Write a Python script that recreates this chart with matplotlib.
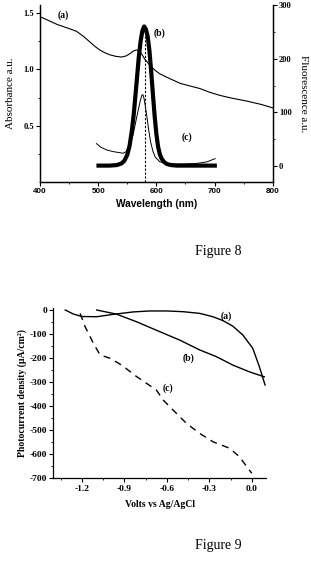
import matplotlib
matplotlib.use("Agg")
import matplotlib.pyplot as plt
from matplotlib.ticker import MultipleLocator, FuncFormatter

plt.rcParams['axes.unicode_minus'] = False

# ---------------- Figure 8 data ----------------
abs_nm = [400, 415, 430, 450, 463, 475, 486, 495, 503, 512, 520, 530, 540, 548, 555, 560, 565, 569, 572, 576, 580, 585, 590, 598, 606, 620, 641, 660, 675, 690, 709, 730, 755, 780, 800]
abs_val = [1.465, 1.43, 1.395, 1.36, 1.335, 1.29, 1.24, 1.2, 1.17, 1.145, 1.128, 1.115, 1.108, 1.118, 1.14, 1.16, 1.17, 1.168, 1.155, 1.125, 1.09, 1.06, 1.03, 0.99, 0.96, 0.925, 0.876, 0.85, 0.83, 0.80, 0.77, 0.745, 0.72, 0.69, 0.66]

fl_b_nm = [497, 520, 532, 540, 545, 550, 554, 558, 561, 564, 567, 570, 573, 576, 579, 582, 585, 588, 591, 594, 597, 600, 603, 606, 609, 613, 618, 625, 635, 704]
fl_b_val = [1, 1, 2, 5, 10, 21, 38, 67, 95, 131, 168, 205, 233, 252, 260, 255, 242, 216, 178, 135, 94, 60, 36, 22, 14, 8, 4, 2, 1, 1]

fl_c_nm = [497, 505, 515, 526, 537.5, 543, 548, 555, 560, 566, 572, 575, 577, 579, 581, 584, 587, 590, 594, 598, 606, 623, 646, 669, 687, 701]
fl_c_val = [42, 35, 30, 27, 25, 24, 27, 42, 58, 90, 120, 132, 133, 125, 112, 90, 66, 46, 28, 17, 8, 4, 4, 5, 8, 14]

peak_nm = 581
peak_top = 255

# ---------------- Figure 9 data ----------------
va_V = [-1.317, -1.259, -1.2, -1.095, -0.977, -0.837, -0.72, -0.60, -0.485, -0.368, -0.274, -0.204, -0.134, -0.063, 0.007, 0.054, 0.094]
va_I = [0, -17, -27, -28, -18, -8, -4, -4, -7, -14, -28, -44, -67, -104, -159, -236, -312]

vb_V = [-1.095, -0.956, -0.813, -0.65, -0.509, -0.368, -0.25, -0.134, -0.017, 0.089]
vb_I = [0, -17, -49, -90, -125, -166, -194, -229, -257, -278]

vc_V = [-1.212, -1.177, -1.118, -1.071, -1.0, -0.919, -0.813, -0.673, -0.626, -0.556, -0.462, -0.368, -0.274, -0.157, -0.087, -0.052, 0.0]
vc_I = [-14, -69, -139, -187, -201, -229, -277, -333, -374, -416, -471, -513, -548, -575, -610, -638, -679]

SERIF = 'Liberation Serif'
SANS = 'Liberation Sans'

fig = plt.figure(figsize=(3.11, 5.61), dpi=100)

# ---------------- Figure 8 ----------------
ax1 = fig.add_axes([0.1286, 0.6756, 0.7483, 0.3155])
ax1r = ax1.twinx()

ax1.plot(abs_nm, abs_val, color='black', lw=0.8)
ax1r.plot(fl_b_nm, fl_b_val, color='black', lw=3.0, solid_capstyle='butt', solid_joinstyle='round')
ax1r.plot(fl_c_nm, fl_c_val, color='black', lw=0.7)
ax1r.plot([peak_nm, peak_nm], [-30, peak_top], color='black', lw=0.8, ls=(0, (2, 1.5)))

ax1.set_xlim(400, 800)
ax1.set_ylim(0.005, 1.568)
ax1r.set_ylim(-29.5, 300)
ax1.set_yticks([0.5, 1.0, 1.5])
ax1.yaxis.set_minor_locator(MultipleLocator(0.25))
ax1.xaxis.set_major_locator(MultipleLocator(100))
ax1.xaxis.set_minor_locator(MultipleLocator(50))
ax1r.set_yticks([0, 100, 200, 300])
ax1r.yaxis.set_minor_locator(MultipleLocator(50))

for a in (ax1, ax1r):
    a.spines['top'].set_visible(False)
    for s in a.spines.values():
        s.set_linewidth(0.9)
ax1.tick_params(axis='both', which='major', direction='out', length=3, width=0.8, pad=1.5)
ax1.tick_params(axis='both', which='minor', direction='out', length=1.5, width=0.6)
ax1r.tick_params(axis='y', which='major', direction='out', length=3, width=0.8, pad=1.5)
ax1r.tick_params(axis='y', which='minor', direction='out', length=1.5, width=0.6)

for lab in ax1.get_xticklabels():
    lab.set_fontfamily(SANS); lab.set_fontweight('bold'); lab.set_fontsize(5.8)
for lab in ax1.get_yticklabels() + ax1r.get_yticklabels():
    lab.set_fontfamily(SERIF); lab.set_fontweight('bold'); lab.set_fontsize(6.0)

ax1.set_xlabel('Wavelength (nm)', fontfamily=SANS, fontweight='bold', fontsize=7.3, labelpad=3)
ax1.set_ylabel('Absorbance a.u.', fontfamily=SERIF, fontsize=8, labelpad=6)
ax1r.set_ylabel('Fluorescence a.u.', fontfamily=SERIF, fontsize=8, rotation=-90, labelpad=12)

ax1.text(440, 1.48, '(a)', fontfamily=SERIF, fontweight='bold', fontsize=7, ha='center', va='center')
ax1.text(606, 1.32, '(b)', fontfamily=SERIF, fontweight='bold', fontsize=7, ha='center', va='center')
ax1.text(652, 0.40, '(c)', fontfamily=SERIF, fontweight='bold', fontsize=7, ha='center', va='center')

fig.text(0.7026, 0.551, 'Figure 8', fontfamily=SERIF, fontsize=10, ha='center', va='center')

# ---------------- Figure 9 ----------------
ax2 = fig.add_axes([0.172, 0.1474, 0.683, 0.3043])
ax2.plot(va_V, va_I, color='black', lw=1.0)
ax2.plot(vb_V, vb_I, color='black', lw=1.0)
ax2.plot(vc_V, vc_I, color='black', lw=1.0, ls=(0, (5, 4)))

ax2.set_xlim(-1.4, 0.1)
ax2.set_ylim(-700, 10)
ax2.xaxis.set_major_locator(MultipleLocator(0.3))
ax2.xaxis.set_minor_locator(MultipleLocator(0.15))
ax2.yaxis.set_major_locator(MultipleLocator(100))
ax2.yaxis.set_minor_locator(MultipleLocator(50))
ax2.xaxis.set_major_formatter(FuncFormatter(lambda v, p: '%.1f' % v if abs(v) > 1e-9 else '0.0'))
ax2.yaxis.set_major_formatter(FuncFormatter(lambda v, p: '%d' % round(v)))
ax2.spines['top'].set_visible(False)
ax2.spines['right'].set_visible(False)
for s in ax2.spines.values():
    s.set_linewidth(0.9)
ax2.tick_params(axis='both', which='major', direction='out', length=3, width=0.8, pad=1.5)
ax2.tick_params(axis='both', which='minor', direction='out', length=1.5, width=0.6)
for lab in ax2.get_xticklabels() + ax2.get_yticklabels():
    lab.set_fontfamily(SERIF); lab.set_fontweight('bold'); lab.set_fontsize(6.8)

ax2.set_xlabel('Volts vs Ag/AgCl', fontfamily=SERIF, fontweight='bold', fontsize=7, labelpad=5)
ax2.set_ylabel('Photocurrent density (μA/cm²)', fontfamily=SERIF, fontweight='bold', fontsize=7, labelpad=2)

ax2.text(-0.18, -25, '(a)', fontfamily=SERIF, fontweight='bold', fontsize=7, ha='center', va='center')
ax2.text(-0.45, -201, '(b)', fontfamily=SERIF, fontweight='bold', fontsize=7, ha='center', va='center')
ax2.text(-0.59, -326, '(c)', fontfamily=SERIF, fontweight='bold', fontsize=7, ha='center', va='center')

fig.text(0.702, 0.0285, 'Figure 9', fontfamily=SERIF, fontsize=10, ha='center', va='center')

fig.savefig('out.png', dpi=100)
